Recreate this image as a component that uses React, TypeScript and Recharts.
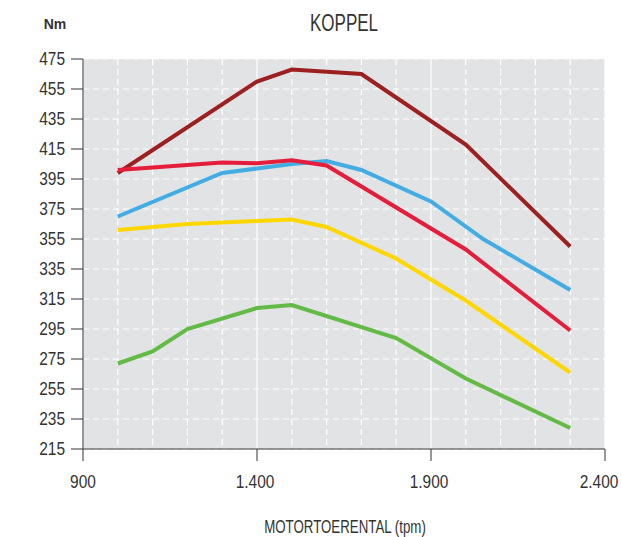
import * as React from 'react';
import { LineChart, Line, XAxis, YAxis, CartesianGrid } from 'recharts';

// torque curves (rpm / Nm)
const darkRed = [
  { rpm: 1000, nm: 399 },
  { rpm: 1400, nm: 460 },
  { rpm: 1500, nm: 468 },
  { rpm: 1700, nm: 465 },
  { rpm: 2000, nm: 418 },
  { rpm: 2300, nm: 350 },
];

const red = [
  { rpm: 1000, nm: 401 },
  { rpm: 1300, nm: 406 },
  { rpm: 1400, nm: 405.5 },
  { rpm: 1500, nm: 407.5 },
  { rpm: 1600, nm: 404 },
  { rpm: 2000, nm: 348 },
  { rpm: 2300, nm: 294 },
];

const blue = [
  { rpm: 1000, nm: 370 },
  { rpm: 1300, nm: 399 },
  { rpm: 1400, nm: 402 },
  { rpm: 1500, nm: 405 },
  { rpm: 1600, nm: 407 },
  { rpm: 1700, nm: 401 },
  { rpm: 1900, nm: 380 },
  { rpm: 2050, nm: 355 },
  { rpm: 2300, nm: 321 },
];

const yellow = [
  { rpm: 1000, nm: 361 },
  { rpm: 1200, nm: 365 },
  { rpm: 1400, nm: 367 },
  { rpm: 1500, nm: 368 },
  { rpm: 1600, nm: 363 },
  { rpm: 1800, nm: 342 },
  { rpm: 2000, nm: 314 },
  { rpm: 2300, nm: 266 },
];

const green = [
  { rpm: 1000, nm: 272 },
  { rpm: 1100, nm: 280 },
  { rpm: 1200, nm: 295 },
  { rpm: 1400, nm: 309 },
  { rpm: 1500, nm: 311 },
  { rpm: 1800, nm: 289 },
  { rpm: 2000, nm: 262 },
  { rpm: 2300, nm: 229 },
];

const xTicks = [900, 1400, 1900, 2400];
const yTicks = [215, 235, 255, 275, 295, 315, 335, 355, 375, 395, 415, 435, 455, 475];
const minorRpm = [1000, 1100, 1200, 1300, 1500, 1600, 1700, 1800, 2000, 2100, 2200, 2300];

const series = [
  { key: 'darkRed', data: darkRed, color: '#9c2020' },
  { key: 'blue', data: blue, color: '#43ade3' },
  { key: 'yellow', data: yellow, color: '#fed700' },
  { key: 'red', data: red, color: '#e41d3a' },
  { key: 'green', data: green, color: '#64ba46' },
];

// no condensed font available, so squeeze Liberation Sans horizontally
const FONT = "'Liberation Sans', Arial, sans-serif";

const fmt = (v: number) => (v >= 1000 ? `${Math.floor(v / 1000)}.${String(v % 1000).padStart(3, '0')}` : String(v));

const minorX = ({ xAxis, offset }: any) =>
  minorRpm.map((v) =>
    xAxis && typeof xAxis.scale === 'function'
      ? xAxis.scale(v)
      : offset.left + ((v - 900) / 1500) * offset.width
  );

const XTick = ({ x, y, payload }: any) => {
  // last label is pulled in a bit so it stays on the page
  const shift = payload.value === 2400 ? -6 : payload.value === 900 ? 0 : -2;
  return (
    <g transform={`translate(${x + shift},${y}) scale(0.86,1)`}>
      <text x={0} y={0} dy="0.71em" textAnchor="middle" fontSize={18} fill="#333" fontFamily={FONT}>
        {fmt(payload.value)}
      </text>
    </g>
  );
};

const YTick = ({ x, y, payload }: any) => (
  <g transform={`translate(${x},${y}) scale(0.86,1)`}>
    <text x={0} y={0} dy="0.36em" textAnchor="end" fontSize={18} fill="#333" fontFamily={FONT}>
      {payload.value}
    </text>
  </g>
);

const App: React.FC = () => {
  return (
    <div style={{ position: 'absolute', left: 0, top: 0, width: 621, height: 537 }}>
      <LineChart width={621} height={537} data={darkRed} margin={{ top: 59, right: 16, bottom: 0, left: 0 }}>
        <CartesianGrid
          fill="#e2e3e5"
          stroke="#fff"
          strokeWidth={1.2}
          strokeDasharray="6 4"
          verticalCoordinatesGenerator={minorX}
        />
        <CartesianGrid horizontal={false} stroke="#fff" strokeWidth={1.2} />
        <XAxis
          dataKey="rpm"
          type="number"
          domain={[900, 2400]}
          ticks={xTicks}
          height={88}
          tickSize={12}
          tickMargin={14}
          tick={<XTick />}
          stroke="#333"
          allowDuplicatedCategory={false}
        />
        <YAxis
          dataKey="nm"
          type="number"
          domain={[215, 475]}
          ticks={yTicks}
          width={83}
          tickSize={12}
          tickMargin={6}
          tick={<YTick />}
          stroke="#333"
          interval={0}
        />
        {series.map((s) => (
          <Line
            key={s.key}
            data={s.data}
            dataKey="nm"
            type="linear"
            stroke={s.color}
            strokeWidth={4}
            dot={false}
            activeDot={false}
            isAnimationActive={false}
          />
        ))}
      </LineChart>
      <svg width={621} height={537} style={{ position: 'absolute', left: 0, top: 0, pointerEvents: 'none' }}>
        <g transform="translate(344,31) scale(0.74,1)">
          <text x={0} y={0} textAnchor="middle" fontSize={23} fill="#333" fontFamily={FONT}>
            KOPPEL
          </text>
        </g>
        <text x={55} y={29} textAnchor="middle" fontSize={14} fontWeight="bold" fill="#333" fontFamily={FONT}>
          Nm
        </text>
        <g transform="translate(345,533) scale(0.76,1)">
          <text x={0} y={0} textAnchor="middle" fontSize={17.5} fill="#333" fontFamily={FONT}>
            MOTORTOERENTAL (tpm)
          </text>
        </g>
      </svg>
    </div>
  );
};

export default App;
